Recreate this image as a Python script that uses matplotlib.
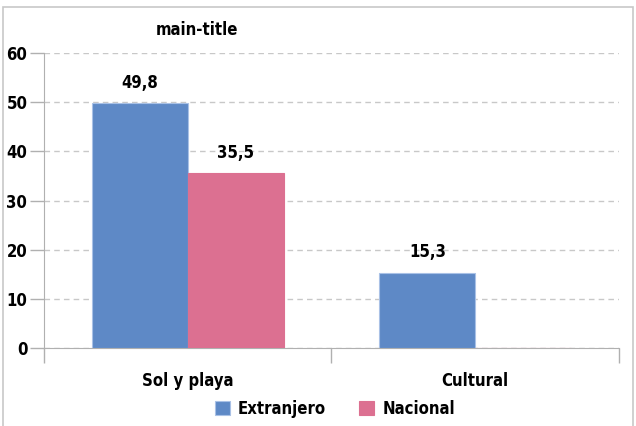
import matplotlib
matplotlib.use("Agg")
import matplotlib.pyplot as plt
from matplotlib.patches import Rectangle
import numpy as np

categories = ["Sol y playa", "Cultural"]
extranjero = [49.8, 15.3]
nacional = [35.5, None]
series_names = ["Extranjero", "Nacional"]
colors = ["#5E89C6", "#DC7091"]
yticks = [0, 10, 20, 30, 40, 50, 60]

plt.rcParams['font.family'] = ['DejaVu Sans']
plt.rcParams['font.stretch'] = 'condensed'
plt.rcParams['font.weight'] = 'bold'

fs = 12

fig = plt.figure(figsize=(6.36, 4.26), dpi=100)
ax = fig.add_axes([0.0692, 0.183, 0.904, 0.6925])

# outer frame
fig.patches.append(Rectangle((0.004, -0.1), 0.991, 1.083, transform=fig.transFigure,
                             fill=False, edgecolor="#C8C8C8", linewidth=1.2))

x = np.arange(len(categories))
w = 1 / 3
for i, (vals, name, c) in enumerate(zip([extranjero, nacional], series_names, colors)):
    pos = x - w / 2 + i * w
    hv = [v if v is not None else 0 for v in vals]
    bars = ax.bar(pos, hv, width=w, color=c, edgecolor="#A9C1E6" if i == 0 else c,
                  linewidth=0.8, label=name, zorder=3)
    for b, v in zip(bars, vals):
        if v is None:
            continue
        ax.text(b.get_x() + b.get_width() / 2, v + 4.2, f"{v:.1f}".replace(".", ","),
                ha="center", va="center", fontsize=fs, fontweight="bold")

ax.set_xlim(-0.5, 1.5)
ax.set_ylim(0, 60)
ax.set_yticks(yticks)
ax.set_yticklabels([str(t) for t in yticks], fontsize=fs, fontweight="bold")
ax.yaxis.grid(True, linestyle=(0, (4, 3)), color="#C8C8C8", linewidth=1)
ax.set_axisbelow(True)

ax.set_xticks([-0.5, 0.5, 1.5])
ax.set_xticklabels([])
ax.tick_params(axis="x", length=11, color="#B0B0B0", width=1)
ax.tick_params(axis="y", length=10, color="#B0B0B0", width=1, pad=2)
for i, c in enumerate(categories):
    ax.text(x[i], -6.8, c, ha="center", va="center", fontsize=fs, fontweight="bold")

for s in ["top", "right"]:
    ax.spines[s].set_visible(False)
ax.spines["left"].set_color("#B0B0B0")
ax.spines["bottom"].set_color("#B0B0B0")

fig.text(197 / 636, 1 - 30 / 426, "main-title", ha="center", va="center",
         fontsize=fs, fontweight="bold")

fig.legend(loc="center", bbox_to_anchor=(335 / 636, 1 - 409 / 426), ncol=2, frameon=False,
           fontsize=fs, handlelength=0.9, handleheight=0.9, columnspacing=2.0,
           handletextpad=0.5)

fig.savefig("out.png", dpi=100)
